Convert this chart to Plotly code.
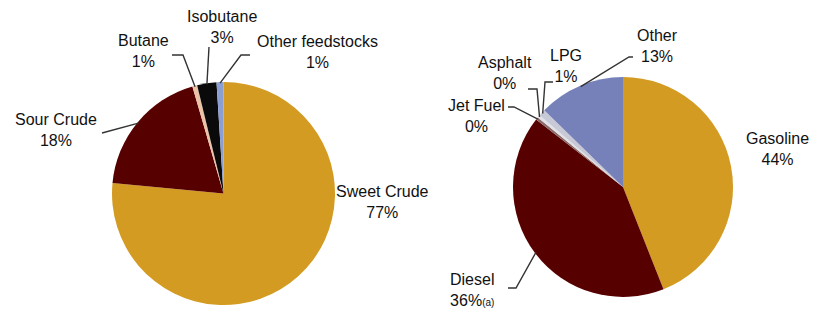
import math
import plotly.graph_objects as go

# ---------------- data ----------------
feed_labels = ["Sweet Crude", "Sour Crude", "Butane", "Isobutane", "Other feedstocks"]
feed_values = [76.5, 19.0, 0.7, 2.8, 1.0]          # slice sizes as drawn
feed_pct_text = ["77%", "18%", "1%", "3%", "1%"]   # printed labels

prod_labels = ["Gasoline", "Diesel", "Jet Fuel", "Asphalt", "LPG", "Other"]
prod_values = [44.0, 41.5, 0.4, 0.4, 1.0, 12.7]
prod_pct_text = ["44%", "36%<span style='font-size:10px'>(a)</span>", "0%", "0%", "1%", "13%"]

# ---------------- styles ----------------
W, H = 825, 309
feed_colors = ["#D39B22", "#570000", "#EBC3A8", "#0A0A0A", "#8C9FD2"]
prod_colors = ["#D39B22", "#570000", "#8A6A6A", "#E2E2E6", "#C8C9D6", "#7581B8"]
FONT = "Liberation Sans, Arial, sans-serif"
FS = 16
LINE_COLOR = "#333333"

# pie geometry (pixels)
L_CX, L_CY, L_R = 223.5, 193.5, 111.5
R_CX, R_CY, R_R = 623.0, 187.0, 110.0


def X(px):
    return px / W


def Y(py):
    return 1 - py / H


fig = go.Figure()
fig.add_trace(go.Pie(
    labels=feed_labels, values=feed_values, sort=False, direction="clockwise",
    rotation=0, textinfo="none", hoverinfo="skip",
    marker=dict(colors=feed_colors, line=dict(width=0)),
    domain=dict(x=[X(L_CX - L_R), X(L_CX + L_R)], y=[Y(L_CY + L_R), Y(L_CY - L_R)]),
    showlegend=False,
))
fig.add_trace(go.Pie(
    labels=prod_labels, values=prod_values, sort=False, direction="clockwise",
    rotation=0, textinfo="none", hoverinfo="skip",
    marker=dict(colors=prod_colors, line=dict(width=0)),
    domain=dict(x=[X(R_CX - R_R), X(R_CX + R_R)], y=[Y(R_CY + R_R), Y(R_CY - R_R)]),
    showlegend=False,
))


def slice_point(values, idx, cx, cy, r, frac=0.99):
    total = sum(values)
    start = sum(values[:idx])
    mid = (start + values[idx] / 2) / total * 2 * math.pi
    return cx + r * frac * math.sin(mid), cy - r * frac * math.cos(mid)


# label positions (pixel centre of the text block) and leader-line elbows
feed_label_pos = {
    "Sweet Crude": (382, 202, None),
    "Sour Crude": (56, 130, [(102, 133)]),
    "Butane": (143, 51, [(172, 55), (183, 55)]),
    "Isobutane": (222, 27, [(209, 47)]),
    "Other feedstocks": (317, 52, [(250, 55), (241, 55)]),
}
prod_label_pos = {
    "Gasoline": (777, 149, None),
    "Diesel": (472, 290, [(508, 288), (516, 288)]),
    "Jet Fuel": (477, 116, [(508, 107), (514, 107)]),
    "Asphalt": (505, 73, [(528, 89), (537, 89)]),
    "LPG": (566, 66, [(553, 82), (545, 82)]),
    "Other": (657, 46, [(633, 57), (629, 57)]),
}

annotations = []
shapes = []


def add_labels(labels, values, pct, pos, cx, cy, r):
    for i, lab in enumerate(labels):
        x, y, elbows = pos[lab]
        annotations.append(dict(
            x=X(x), y=Y(y), xref="paper", yref="paper", showarrow=False,
            text=f"{lab}<br>{pct[i]}", align="center",
            font=dict(family=FONT, size=FS, color="#111111"),
            xanchor="center", yanchor="middle",
        ))
        if elbows:
            pts = list(elbows) + [slice_point(values, i, cx, cy, r)]
            path = "M " + " L ".join(f"{X(px):.5f},{Y(py):.5f}" for px, py in pts)
            shapes.append(dict(type="path", path=path, xref="paper", yref="paper",
                               line=dict(color=LINE_COLOR, width=1.4)))


add_labels(feed_labels, feed_values, feed_pct_text, feed_label_pos, L_CX, L_CY, L_R)
add_labels(prod_labels, prod_values, prod_pct_text, prod_label_pos, R_CX, R_CY, R_R)

fig.update_layout(
    width=W, height=H, margin=dict(l=0, r=0, t=0, b=0),
    paper_bgcolor="white", plot_bgcolor="white",
    annotations=annotations, shapes=shapes, showlegend=False,
)

fig.write_html(
    "out.html",
    config={"displayModeBar": False},
    post_script="document.body.style.margin='0';document.body.style.overflow='hidden';",
)
